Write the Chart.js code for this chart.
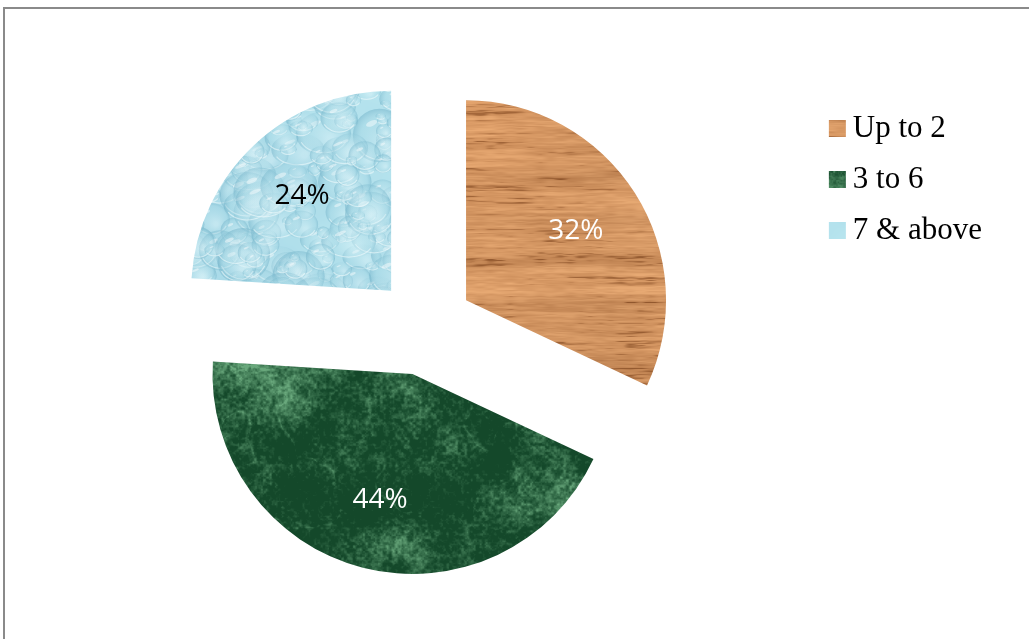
<!DOCTYPE html>
<html>
<head>
<meta charset="utf-8">
<script src="https://cdn.jsdelivr.net/npm/chart.js@4/dist/chart.umd.min.js"></script>
<style>
  html, body { margin: 0; padding: 0; background: #fff; }
  #wrap { position: relative; width: 1029px; height: 639px; overflow: hidden; }
  #frame { position: absolute; left: 3px; top: 7px; width: 1100px; height: 700px;
           border-top: 2px solid #8a8a8a; border-left: 2px solid #8a8a8a; box-sizing: border-box; }
  canvas { position: absolute; left: 0; top: 0; }
</style>
</head>
<body>
<div id="wrap">
  <div id="frame"></div>
  <canvas id="chart" width="1029" height="639"></canvas>
</div>
<script>
// Household size groups and their shares (%)
const categories = ['Up to 2', '3 to 6', '7 & above'];
const shares = [32, 44, 24];
const labelColors = ['#ffffff', '#ffffff', '#000000'];

// ---- procedural fill textures (one canvas-sized sheet each) --------------
const W = 1029, H = 639;
function hash(i, j) {
  const s = Math.sin(i * 127.1 + j * 311.7) * 43758.5453;
  return s - Math.floor(s);
}
function smooth(t) { return t * t * (3 - 2 * t); }
function noise2(x, y) {
  const xi = Math.floor(x), yi = Math.floor(y);
  const xf = smooth(x - xi), yf = smooth(y - yi);
  const a = hash(xi, yi), b = hash(xi + 1, yi);
  const c = hash(xi, yi + 1), d = hash(xi + 1, yi + 1);
  const top = a + (b - a) * xf, bot = c + (d - c) * xf;
  return top + (bot - top) * yf;
}
function fbm(x, y, oct) {
  let v = 0, amp = 0.5, f = 1, norm = 0;
  for (let k = 0; k < oct; k++) {
    v += amp * noise2(x * f, y * f);
    norm += amp; amp *= 0.5; f *= 2.03;
  }
  return v / norm;
}
function clamp(v) { return v < 0 ? 0 : v > 255 ? 255 : v; }
function makeSheet(shade) {
  const c = document.createElement('canvas');
  c.width = W; c.height = H;
  const g = c.getContext('2d');
  const img = g.createImageData(W, H);
  for (let y = 0; y < H; y++) {
    for (let x = 0; x < W; x++) {
      const rgb = shade(x, y);
      const p = (y * W + x) * 4;
      img.data[p] = clamp(rgb[0]); img.data[p + 1] = clamp(rgb[1]);
      img.data[p + 2] = clamp(rgb[2]); img.data[p + 3] = 255;
    }
  }
  g.putImageData(img, 0, 0);
  return c;
}

// oak grain: soft horizontal streaks with thin darker lines
function woodSheet() {
  return makeSheet((x, y) => {
    const w = y + 8 * fbm(x / 180, y / 180, 3);
    const band = noise2(x / 300, w / 14) - 0.5;
    const grain = fbm(x / 80, w / 3.0, 4);
    const fine = noise2(x / 10, w / 1.2);
    const lf = noise2(x / 120 + 5, y / 120 + 3) - 0.5;
    let t = grain * 0.75 + fine * 0.25;
    t = Math.min(1, Math.max(0, (t - 0.22) / 0.5));
    const line = t < 0.3 ? (0.3 - t) * 2.0 : 0;
    const base = [212, 150, 98];
    return [
      base[0] + (t - 0.6) * 34 - line * 60 + lf * 20 + band * 26,
      base[1] + (t - 0.6) * 34 - line * 55 + lf * 16 + band * 24,
      base[2] + (t - 0.6) * 30 - line * 45 + lf * 12 + band * 20
    ];
  });
}

// green marble: dark mottled green with pale cloudy patches
function marbleSheet() {
  return makeSheet((x, y) => {
    const t = fbm(x / 50, y / 50, 5);
    const turb = fbm(x / 100 + 11, y / 100 + 7, 4);
    const vein = Math.pow(1 - Math.abs(Math.sin((x * 0.8 - y * 0.5) / 45 + turb * 8)), 10);
    const speck = fbm(x / 3, y / 3, 2);
    let v = 0.8 * t + 0.15 * vein + 0.4 * (speck - 0.5);
    v = Math.min(1, Math.max(0, (v - 0.3) / 0.45));
    v = Math.pow(v, 1.3);
    const dark = [20, 72, 42], light = [105, 168, 124];
    return [
      dark[0] + (light[0] - dark[0]) * v,
      dark[1] + (light[1] - dark[1]) * v,
      dark[2] + (light[2] - dark[2]) * v
    ];
  });
}

// water drops on pale cyan
function dropsSheet() {
  const c = makeSheet((x, y) => {
    const n = fbm(x / 60, y / 60, 3) - 0.5;
    return [176 + n * 26, 223 + n * 20, 235 + n * 12];
  });
  const g = c.getContext('2d');
  for (let i = 0; i < 240; i++) {
    const x = 170 + hash(i, 1) * 240, y = 70 + hash(i, 2) * 240;
    const r = 5 + Math.pow(hash(i, 3), 1.8) * 24;
    const ry = r * (0.6 + hash(i, 4) * 0.4);
    const grd = g.createRadialGradient(x + r * 0.25, y + ry * 0.3, r * 0.1, x, y, r);
    grd.addColorStop(0, 'rgba(228,247,251,0.4)');
    grd.addColorStop(0.75, 'rgba(160,212,226,0.3)');
    grd.addColorStop(1, 'rgba(110,175,198,0.5)');
    g.fillStyle = grd;
    g.beginPath(); g.ellipse(x, y, r, ry, 0, 0, Math.PI * 2); g.fill();
    g.strokeStyle = 'rgba(250,255,255,0.5)';
    g.lineWidth = 1.2;
    g.beginPath(); g.ellipse(x, y, r * 0.9, ry * 0.9, 0, Math.PI * 0.15, Math.PI * 0.85); g.stroke();
    g.fillStyle = 'rgba(255,255,255,0.45)';
    g.beginPath(); g.ellipse(x - r * 0.3, y - ry * 0.45, r * 0.22, ry * 0.1, -0.4, 0, Math.PI * 2); g.fill();
  }
  return c;
}

const canvas = document.getElementById('chart');
const ctx = canvas.getContext('2d');
const fills = [
  ctx.createPattern(woodSheet(), 'no-repeat'),
  ctx.createPattern(marbleSheet(), 'no-repeat'),
  ctx.createPattern(dropsSheet(), 'no-repeat')
];

// ---- plugins -------------------------------------------------------------
// pull every slice outward along its bisector
const EXPLODE = 49;
const explodePlugin = {
  id: 'explode',
  beforeDatasetsDraw(chart) {
    const a = chart.chartArea;
    const cx = (a.left + a.right) / 2, cy = (a.top + a.bottom) / 2;
    chart.getDatasetMeta(0).data.forEach(el => {
      const mid = (el.startAngle + el.endAngle) / 2;
      el.x = cx + Math.cos(mid) * EXPLODE;
      el.y = cy + Math.sin(mid) * EXPLODE;
    });
  }
};

// percentage text inside each slice
const sliceLabels = {
  id: 'sliceLabels',
  afterDatasetsDraw(chart) {
    const c = chart.ctx;
    const ds = chart.data.datasets[0];
    c.save();
    c.font = '28px "Open Sans", sans-serif';
    c.textAlign = 'center';
    c.textBaseline = 'middle';
    chart.getDatasetMeta(0).data.forEach((el, i) => {
      const mid = (el.startAngle + el.endAngle) / 2;
      const rr = el.outerRadius * 0.65;
      c.fillStyle = labelColors[i];
      c.fillText(ds.data[i] + '%', el.x + Math.cos(mid) * rr, el.y + Math.sin(mid) * rr);
    });
    c.restore();
  }
};

new Chart(ctx, {
  type: 'pie',
  data: {
    labels: categories,
    datasets: [{
      data: shares,
      backgroundColor: fills,
      borderWidth: 0,
      radius: 200
    }]
  },
  options: {
    responsive: false,
    animation: false,
    events: [],
    layout: { padding: { left: 32, top: 93, right: 37, bottom: 79 } },
    plugins: {
      tooltip: { enabled: false },
      legend: {
        position: 'right',
        align: 'start',
        labels: {
          usePointStyle: true,
          pointStyle: 'rect',
          boxWidth: 0.01,
          boxHeight: 17,
          padding: 20,
          color: '#000',
          font: { family: '"Liberation Serif", "Times New Roman", serif', size: 31 }
        }
      }
    }
  },
  plugins: [explodePlugin, sliceLabels]
});
</script>
</body>
</html>
